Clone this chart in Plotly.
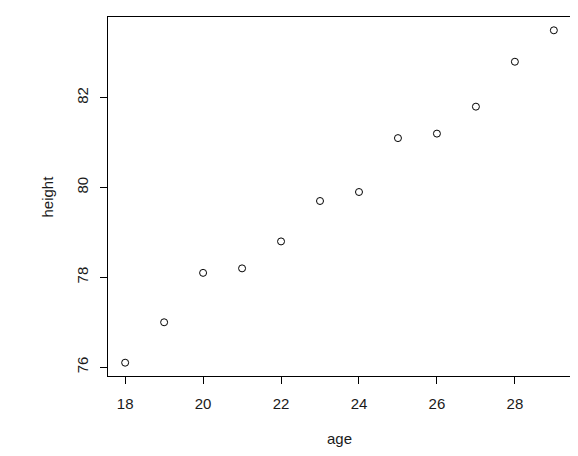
import plotly.graph_objects as go

age = [18, 19, 20, 21, 22, 23, 24, 25, 26, 27, 28, 29]
height = [76.1, 77.0, 78.1, 78.2, 78.8, 79.7, 79.9, 81.1, 81.2, 81.8, 82.8, 83.5]
x_ticks = [18, 20, 22, 24, 26, 28]
y_ticks = [76, 78, 80, 82]

fig = go.Figure(go.Scatter(
    x=age, y=height, mode="markers",
    marker=dict(symbol="circle-open", size=7, color="black", line=dict(width=1, color="black")),
))

font = dict(family="Liberation Sans, Arial, sans-serif", size=15, color="#1a1a1a")
xpad = (max(age) - min(age)) * 0.04
ypad = (max(height) - min(height)) * 0.04

# page body has an 8px margin: figure sits at (8, 8)
fig.update_layout(
    width=570, height=448,
    margin=dict(l=100, r=7, t=9, b=80),
    paper_bgcolor="white", plot_bgcolor="white",
    showlegend=False,
    font=font,
    xaxis=dict(range=[min(age) - xpad, max(age) + xpad], tickvals=x_ticks,
               showgrid=False, zeroline=False, showline=True, mirror=True,
               linecolor="black", linewidth=1, ticks="outside", ticklen=7,
               tickcolor="black", tickwidth=1, ticklabelstandoff=7, tickfont=font),
    yaxis=dict(range=[min(height) - ypad, max(height) + ypad], tickvals=y_ticks,
               showgrid=False, zeroline=False, showline=True, mirror=True,
               linecolor="black", linewidth=1, ticks="outside", ticklen=7,
               tickcolor="black", tickwidth=1, tickangle=-90, ticklabelstandoff=6,
               tickfont=font),
    annotations=[
        dict(text="age", x=0.5, xref="paper", y=0, yref="paper", yshift=-62,
             yanchor="middle", xanchor="center", showarrow=False, font=font),
        dict(text="height", x=0, xref="paper", xshift=-61, y=0.5, yref="paper",
             textangle=-90, xanchor="center", yanchor="middle", showarrow=False, font=font),
    ],
)

fig.write_html("out.html")
